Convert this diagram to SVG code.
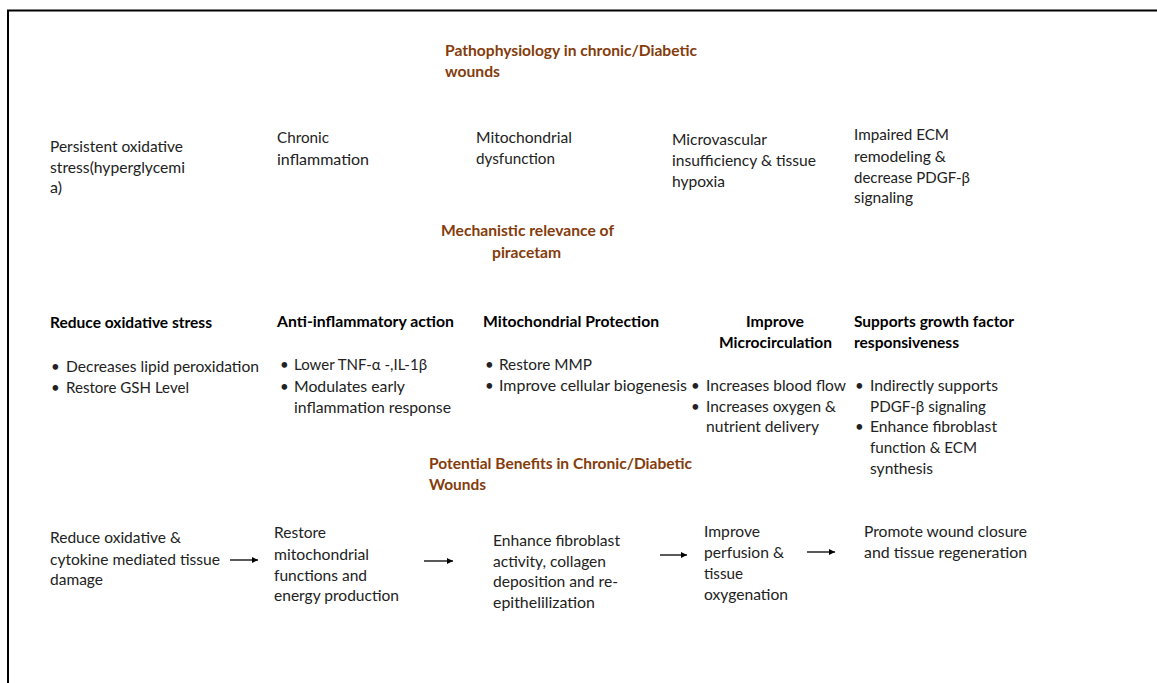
<svg xmlns="http://www.w3.org/2000/svg" width="1157" height="683" viewBox="0 0 1157 683">
  <style>
    text { font-family: Lato, "Liberation Sans", sans-serif; font-size: 15px; fill: #222; }
    .title { font-weight: bold; fill: #843c0c; }
    .head { font-weight: bold; fill: #000; }
    .arrow { stroke: #000; stroke-width: 1.3; fill: none; marker-end: url(#head); }
  </style>
  <defs>
    <marker id="head" viewBox="0 0 10 10" refX="10" refY="5" markerWidth="7" markerHeight="6" markerUnits="userSpaceOnUse" orient="auto">
      <path d="M0,0 L10,5 L0,10 z" fill="#000"/>
    </marker>
  </defs>
  <rect width="1157" height="683" fill="#fff"/>
  <!-- frame: top and left edges -->
  <path d="M8,700 V10.5 H1170" fill="none" stroke="#000" stroke-width="2"/>

  <!-- section titles -->
  <g id="title-pathophysiology">
    <text class="title" x="445" y="56" textLength="252" lengthAdjust="spacingAndGlyphs">Pathophysiology in chronic/Diabetic</text>
    <text class="title" x="445" y="77" textLength="55" lengthAdjust="spacingAndGlyphs">wounds</text>
  </g>
  <g id="title-mechanistic">
    <text class="title" x="441" y="236" textLength="173" lengthAdjust="spacingAndGlyphs">Mechanistic relevance of</text>
    <text class="title" x="492" y="258" textLength="69" lengthAdjust="spacingAndGlyphs">piracetam</text>
  </g>
  <g id="title-benefits">
    <text class="title" x="429" y="469" textLength="263" lengthAdjust="spacingAndGlyphs">Potential Benefits in Chronic/Diabetic</text>
    <text class="title" x="429" y="490" textLength="57" lengthAdjust="spacingAndGlyphs">Wounds</text>
  </g>

  <!-- pathophysiology row -->
  <g id="path-oxidative">
    <text x="50" y="152" textLength="133" lengthAdjust="spacingAndGlyphs">Persistent oxidative</text>
    <text x="50" y="173" textLength="135" lengthAdjust="spacingAndGlyphs">stress(hyperglycemi</text>
    <text x="50" y="193" textLength="12" lengthAdjust="spacingAndGlyphs">a)</text>
  </g>
  <g id="path-inflammation">
    <text x="277" y="143" textLength="52" lengthAdjust="spacingAndGlyphs">Chronic</text>
    <text x="277" y="165" textLength="92" lengthAdjust="spacingAndGlyphs">inflammation</text>
  </g>
  <g id="path-mitochondrial">
    <text x="476" y="143" textLength="96" lengthAdjust="spacingAndGlyphs">Mitochondrial</text>
    <text x="476" y="164" textLength="79" lengthAdjust="spacingAndGlyphs">dysfunction</text>
  </g>
  <g id="path-microvascular">
    <text x="672" y="145" textLength="95" lengthAdjust="spacingAndGlyphs">Microvascular</text>
    <text x="672" y="166" textLength="144" lengthAdjust="spacingAndGlyphs">insufficiency &amp; tissue</text>
    <text x="672" y="187" textLength="53" lengthAdjust="spacingAndGlyphs">hypoxia</text>
  </g>
  <g id="path-ecm">
    <text x="854" y="140" textLength="95" lengthAdjust="spacingAndGlyphs">Impaired ECM</text>
    <text x="854" y="162" textLength="92" lengthAdjust="spacingAndGlyphs">remodeling &amp;</text>
    <text x="854" y="183" textLength="116" lengthAdjust="spacingAndGlyphs">decrease PDGF-β</text>
    <text x="854" y="203" textLength="59" lengthAdjust="spacingAndGlyphs">signaling</text>
  </g>

  <!-- mechanism columns -->
  <g id="mech-oxidative">
    <text class="head" x="50" y="328" textLength="162" lengthAdjust="spacingAndGlyphs">Reduce oxidative stress</text>
    <text x="51" y="372">•</text>
    <text x="66" y="372" textLength="193" lengthAdjust="spacingAndGlyphs">Decreases lipid peroxidation</text>
    <text x="51" y="393">•</text>
    <text x="66" y="393" textLength="123" lengthAdjust="spacingAndGlyphs">Restore GSH Level</text>
  </g>
  <g id="mech-inflammatory">
    <text class="head" x="277" y="327" textLength="177" lengthAdjust="spacingAndGlyphs">Anti-inflammatory action</text>
    <text x="280" y="370">•</text>
    <text x="294" y="370" textLength="133" lengthAdjust="spacingAndGlyphs">Lower TNF-α -,IL-1β</text>
    <text x="280" y="392">•</text>
    <text x="294" y="392" textLength="111" lengthAdjust="spacingAndGlyphs">Modulates early</text>
    <text x="294" y="413" textLength="157" lengthAdjust="spacingAndGlyphs">inflammation response</text>
  </g>
  <g id="mech-mitochondrial">
    <text class="head" x="483" y="327" textLength="176" lengthAdjust="spacingAndGlyphs">Mitochondrial Protection</text>
    <text x="485" y="370">•</text>
    <text x="499" y="370" textLength="93" lengthAdjust="spacingAndGlyphs">Restore MMP</text>
    <text x="485" y="391">•</text>
    <text x="499" y="391" textLength="188" lengthAdjust="spacingAndGlyphs">Improve cellular biogenesis</text>
  </g>
  <g id="mech-microcirculation">
    <text class="head" x="775" y="327" text-anchor="middle" textLength="58" lengthAdjust="spacingAndGlyphs">Improve</text>
    <text class="head" x="775.5" y="348" text-anchor="middle" textLength="113" lengthAdjust="spacingAndGlyphs">Microcirculation</text>
    <text x="691" y="391">•</text>
    <text x="706" y="391" textLength="140" lengthAdjust="spacingAndGlyphs">Increases blood flow</text>
    <text x="691" y="412">•</text>
    <text x="706" y="412" textLength="130" lengthAdjust="spacingAndGlyphs">Increases oxygen &amp;</text>
    <text x="706" y="432" textLength="113" lengthAdjust="spacingAndGlyphs">nutrient delivery</text>
  </g>
  <g id="mech-growth-factor">
    <text class="head" x="854" y="327" textLength="160" lengthAdjust="spacingAndGlyphs">Supports growth factor</text>
    <text class="head" x="854" y="348" textLength="105" lengthAdjust="spacingAndGlyphs">responsiveness</text>
    <text x="855" y="391">•</text>
    <text x="870" y="391" textLength="128" lengthAdjust="spacingAndGlyphs">Indirectly supports</text>
    <text x="870" y="412" textLength="116" lengthAdjust="spacingAndGlyphs">PDGF-β signaling</text>
    <text x="855" y="432">•</text>
    <text x="870" y="432" textLength="127" lengthAdjust="spacingAndGlyphs">Enhance fibroblast</text>
    <text x="870" y="453" textLength="107" lengthAdjust="spacingAndGlyphs">function &amp; ECM</text>
    <text x="870" y="474" textLength="63" lengthAdjust="spacingAndGlyphs">synthesis</text>
  </g>

  <!-- benefits chain -->
  <g id="benefit-damage">
    <text x="50" y="543" textLength="131" lengthAdjust="spacingAndGlyphs">Reduce oxidative &amp;</text>
    <text x="50" y="565" textLength="170" lengthAdjust="spacingAndGlyphs">cytokine mediated tissue</text>
    <text x="50" y="585" textLength="53" lengthAdjust="spacingAndGlyphs">damage</text>
  </g>
  <g id="benefit-mitochondria">
    <text x="274" y="538" textLength="52" lengthAdjust="spacingAndGlyphs">Restore</text>
    <text x="274" y="560" textLength="95" lengthAdjust="spacingAndGlyphs">mitochondrial</text>
    <text x="274" y="581" textLength="93" lengthAdjust="spacingAndGlyphs">functions and</text>
    <text x="274" y="601" textLength="125" lengthAdjust="spacingAndGlyphs">energy production</text>
  </g>
  <g id="benefit-fibroblast">
    <text x="493" y="546" textLength="127" lengthAdjust="spacingAndGlyphs">Enhance fibroblast</text>
    <text x="493" y="567" textLength="113" lengthAdjust="spacingAndGlyphs">activity, collagen</text>
    <text x="493" y="587" textLength="125" lengthAdjust="spacingAndGlyphs">deposition and re-</text>
    <text x="493" y="608" textLength="102" lengthAdjust="spacingAndGlyphs">epithelilization</text>
  </g>
  <g id="benefit-perfusion">
    <text x="704" y="537" textLength="56" lengthAdjust="spacingAndGlyphs">Improve</text>
    <text x="704" y="558" textLength="80" lengthAdjust="spacingAndGlyphs">perfusion &amp;</text>
    <text x="704" y="579" textLength="39" lengthAdjust="spacingAndGlyphs">tissue</text>
    <text x="704" y="600" textLength="84" lengthAdjust="spacingAndGlyphs">oxygenation</text>
  </g>
  <g id="benefit-closure">
    <text x="864" y="537" textLength="163" lengthAdjust="spacingAndGlyphs">Promote wound closure</text>
    <text x="864" y="558" textLength="163" lengthAdjust="spacingAndGlyphs">and tissue regeneration</text>
  </g>

  <g id="connectors">
    <line class="arrow" x1="230" y1="560" x2="258" y2="560"/>
    <line class="arrow" x1="424" y1="561" x2="453" y2="561"/>
    <line class="arrow" x1="660" y1="555" x2="687" y2="555"/>
    <line class="arrow" x1="807" y1="552" x2="835" y2="552"/>
  </g>
</svg>
